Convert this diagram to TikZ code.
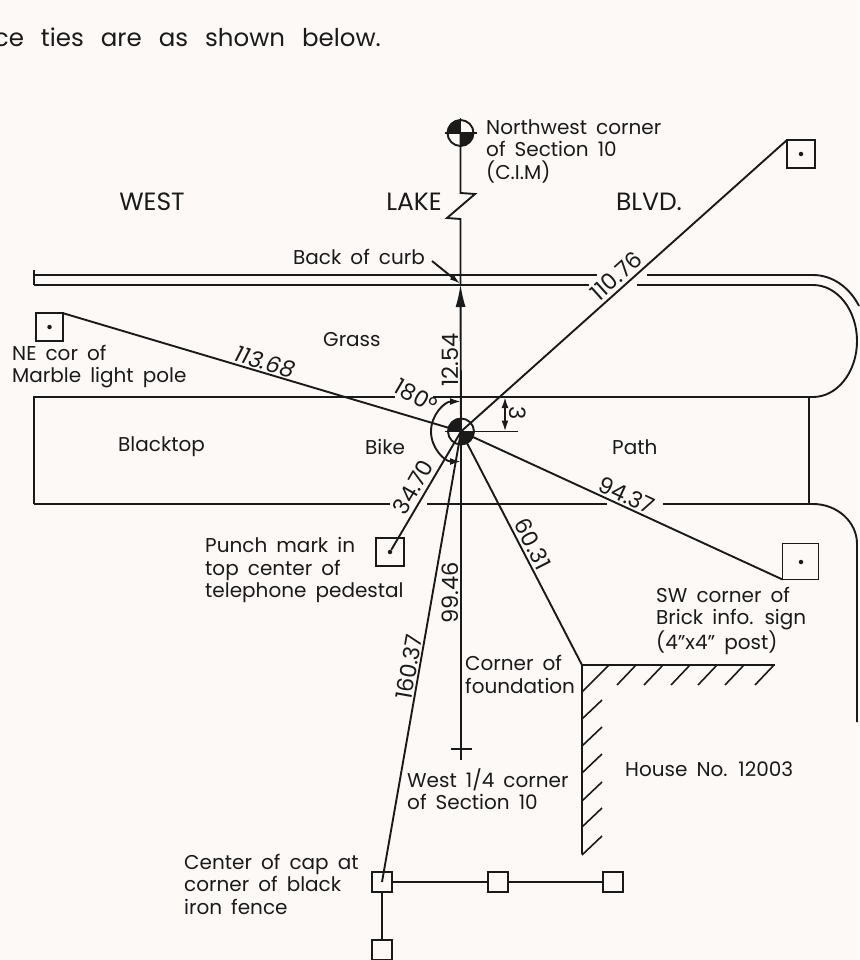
\documentclass[tikz,border=0pt]{standalone}
\usepackage{fontspec}
\setmainfont[WordSpace=1.7]{Poppins}
\newfontfamily\topfont[WordSpace=2.6]{Poppins}
\usetikzlibrary{arrows.meta}
\definecolor{paper}{HTML}{FDF9F7}
\definecolor{ink}{HTML}{1A1A1A}
\tikzset{
  ln/.style={draw=ink,line width=1.9pt},
  hatchline/.style={draw=ink,line width=1.6pt},
  lab/.style={text=ink,font=\fontsize{20}{22.5}\selectfont,inner sep=0pt,align=left,anchor=west},
  toptext/.style={text=ink,font=\topfont\fontsize{24.5}{28}\selectfont,inner sep=0pt,anchor=east},
  big/.style={text=ink,font=\fontsize{25}{28}\selectfont,inner sep=0pt},
  dim/.style={text=ink,font=\fontsize{22.5}{24}\selectfont,inner sep=0pt},
  tiebox/.style={draw=ink,line width=1.9pt,inner sep=0pt,outer sep=0pt,minimum size=#1},
  dotm/.style={circle,fill=ink,inner sep=0pt,minimum size=4.5pt},
  tip/.style={-{Latex[length=23pt,width=10pt]}},
  smalltips/.style={{Latex[length=11pt,width=7pt]}-{Latex[length=11pt,width=7pt]}},
}
\newcommand{\monu}[1]{%
  \fill[ink] (#1) -- +(180:13) arc (180:270:13) -- cycle;
  \fill[ink] (#1) -- +(0:13) arc (0:90:13) -- cycle;
  \draw[ln] (#1) circle (13);
  \draw[ln] ([xshift=-16pt]#1) -- ([xshift=16pt]#1);
  \draw[ln] ([yshift=15pt]#1) -- ([yshift=-15pt]#1);
}
\begin{document}
\begin{tikzpicture}[x=1pt,y=1pt,yscale=-1]
\useasboundingbox (0,0) rectangle (859,960);
\fill[paper] (0,0) rectangle (859,960);

% anchors
\coordinate (C) at (461,431.5);
\coordinate (NW) at (460.5,133);
\coordinate (Z1) at (460.5,193);
\coordinate (Z2) at (475,194);
\coordinate (Z3) at (447,218);
\coordinate (Z4) at (460.5,219);
\coordinate (Curb) at (460.5,284);
\coordinate (W4) at (461,760);
\coordinate (W4a) at (451,749);
\coordinate (W4b) at (472,749);
\coordinate (F) at (582,665);
\coordinate (Fe) at (775,665);
\coordinate (Fs) at (582,854);

% road edges
\draw[ln] (34,270) -- (34,285);
\draw[ln] (34,275) -- (597,275);
\draw[ln] (34,285) -- (589,285);
\draw[ln] (647,275) -- (813,275) arc (-90:-31.6:54 and 65);
\draw[ln] (637,285) -- (813,285) arc (-90:90:44 and 56);
\draw[ln] (34,504) -- (34,397) -- (395,397);
\draw[ln] (433,397) -- (813,397);
\draw[ln] (34,504) -- (390,504);
\draw[ln] (427,504) -- (607,504);
\draw[ln] (663,504) -- (813,504) arc (-90:0:44 and 40) -- (857,722);
\draw[ln] (809,397) -- (809,504);

% tie boxes
\node[tiebox=27.5pt] (lp) at (49.5,327) {};
\node[dotm] (lpd) at (49.5,327) {};
\node[tiebox=28pt] (tr) at (801,154) {};
\node[dotm] (trd) at (801,154) {};
\node[tiebox=36pt] (br) at (800.5,561.5) {};
\node[dotm] (brd) at (801,562) {};
\node[tiebox=27.5pt] (pm) at (390,552) {};
\node[dotm] (pmd) at (390,552) {};
\node[tiebox=20pt] (f1) at (382,882) {};
\node[tiebox=20pt] (f2) at (498,882) {};
\node[tiebox=20pt] (f3) at (613,882) {};
\node[tiebox=20pt] (f4) at (382,950) {};

% ties
\draw[ln] (NW) -- (Z1) -- (Z2) -- (Z3) -- (Z4) -- (Curb);
\draw[ln] (C) -- (W4);
\draw[ln] (W4a) -- (W4b);
\draw[ln,tip] (C) -- (Curb);
\draw[ln] (C) -- (lp.north east);
\draw[ln] (C) -- (tr.north west);
\draw[ln] (C) -- (br.south west);
\draw[ln] (C) -- (pmd);
\draw[ln] (C) -- (f1.center);
\draw[ln] (C) -- (F);
\draw[ln] (f1) -- (f2);
\draw[ln] (f2) -- (f3);
\draw[ln] (f1) -- (f4);

% foundation
\draw[ln] (Fe) -- (F) -- (Fs);
\draw[hatchline] (609,665) -- (582,692);
\foreach \x in {636,663,690,717,744,774}{
  \draw[hatchline] (\x,665) -- ++(-19,20);
}
\foreach \y in {700,727,754,782,808,836}{
  \draw[hatchline] (602,\y) -- (582,\y+19);
}

% back of curb leader
\coordinate (BC) at (432,261);
\draw[ln,-{Latex[length=11pt,width=6pt]}] (BC) -- (Curb);

% 3 dim
\coordinate (D1) at (505,397);
\coordinate (D2) at (505,431.5);
\coordinate (D3) at (518,431.5);
\draw[ln] (C) -- (D3);
\draw[ln,smalltips] (D1) -- (D2);

% angle
\draw[ln,smalltips] (461,401.5) arc (270:90:30);

\monu{NW}
\monu{C}

% texts
\node[toptext] (t0) at (381,37) {nce ties are as shown below.};
\node[lab] (t1) at (486,151) {Northwest corner\\of Section 10\\(C.I.M)};
\node[big] (t2) at (152,202) {WEST};
\node[big] (t3) at (414,202) {LAKE};
\node[big] (t4) at (649,202) {BLVD.};
\node[lab] (t5) at (293,257) {Back of curb};
\node[lab] (t6) at (323,340) {Grass};
\node[lab] (t7) at (12,366.5) {NE cor of\\Marble light pole};
\node[lab] (t8) at (118,447) {Blacktop};
\node[lab] (t9) at (365,447) {Bike};
\node[lab] (t10) at (612,447) {Path};
\node[lab] (t11) at (205,570) {Punch mark in\\top center of\\telephone pedestal};
\node[lab] (t12) at (656,621) {SW corner of\\Brick info. sign\\(4"x4" post)};
\node[lab] (t13) at (465,674.5) {Corner of\\foundation};
\node[lab] (t14) at (625,769) {House No. 12003};
\node[lab] (t15) at (407,789) {West 1/4 corner\\of Section 10};
\node[lab] (t16) at (184,884) {Center of cap at\\corner of black\\iron fence};

\node[dim,rotate=-17] (d1) at (265,362) {\itshape 113.68};
\node[dim,rotate=42] (d2) at (616,276) {110.76};
\node[dim,rotate=90] (d3) at (450,360) {12.54};
\node[dim,rotate=60] (d4) at (413,487) {34.70};
\node[dim,rotate=90] (d5) at (450,593) {99.46};
\node[dim,rotate=80] (d6) at (409,667) {160.37};
\node[dim,rotate=-63] (d7) at (533,544) {60.31};
\node[dim,rotate=-25] (d8) at (627,495) {94.37};
\node[dim,rotate=-30] (d9) at (416,396) {180°};
\node[dim,rotate=-90] (d10) at (518,413) {3};
\end{tikzpicture}
\end{document}
